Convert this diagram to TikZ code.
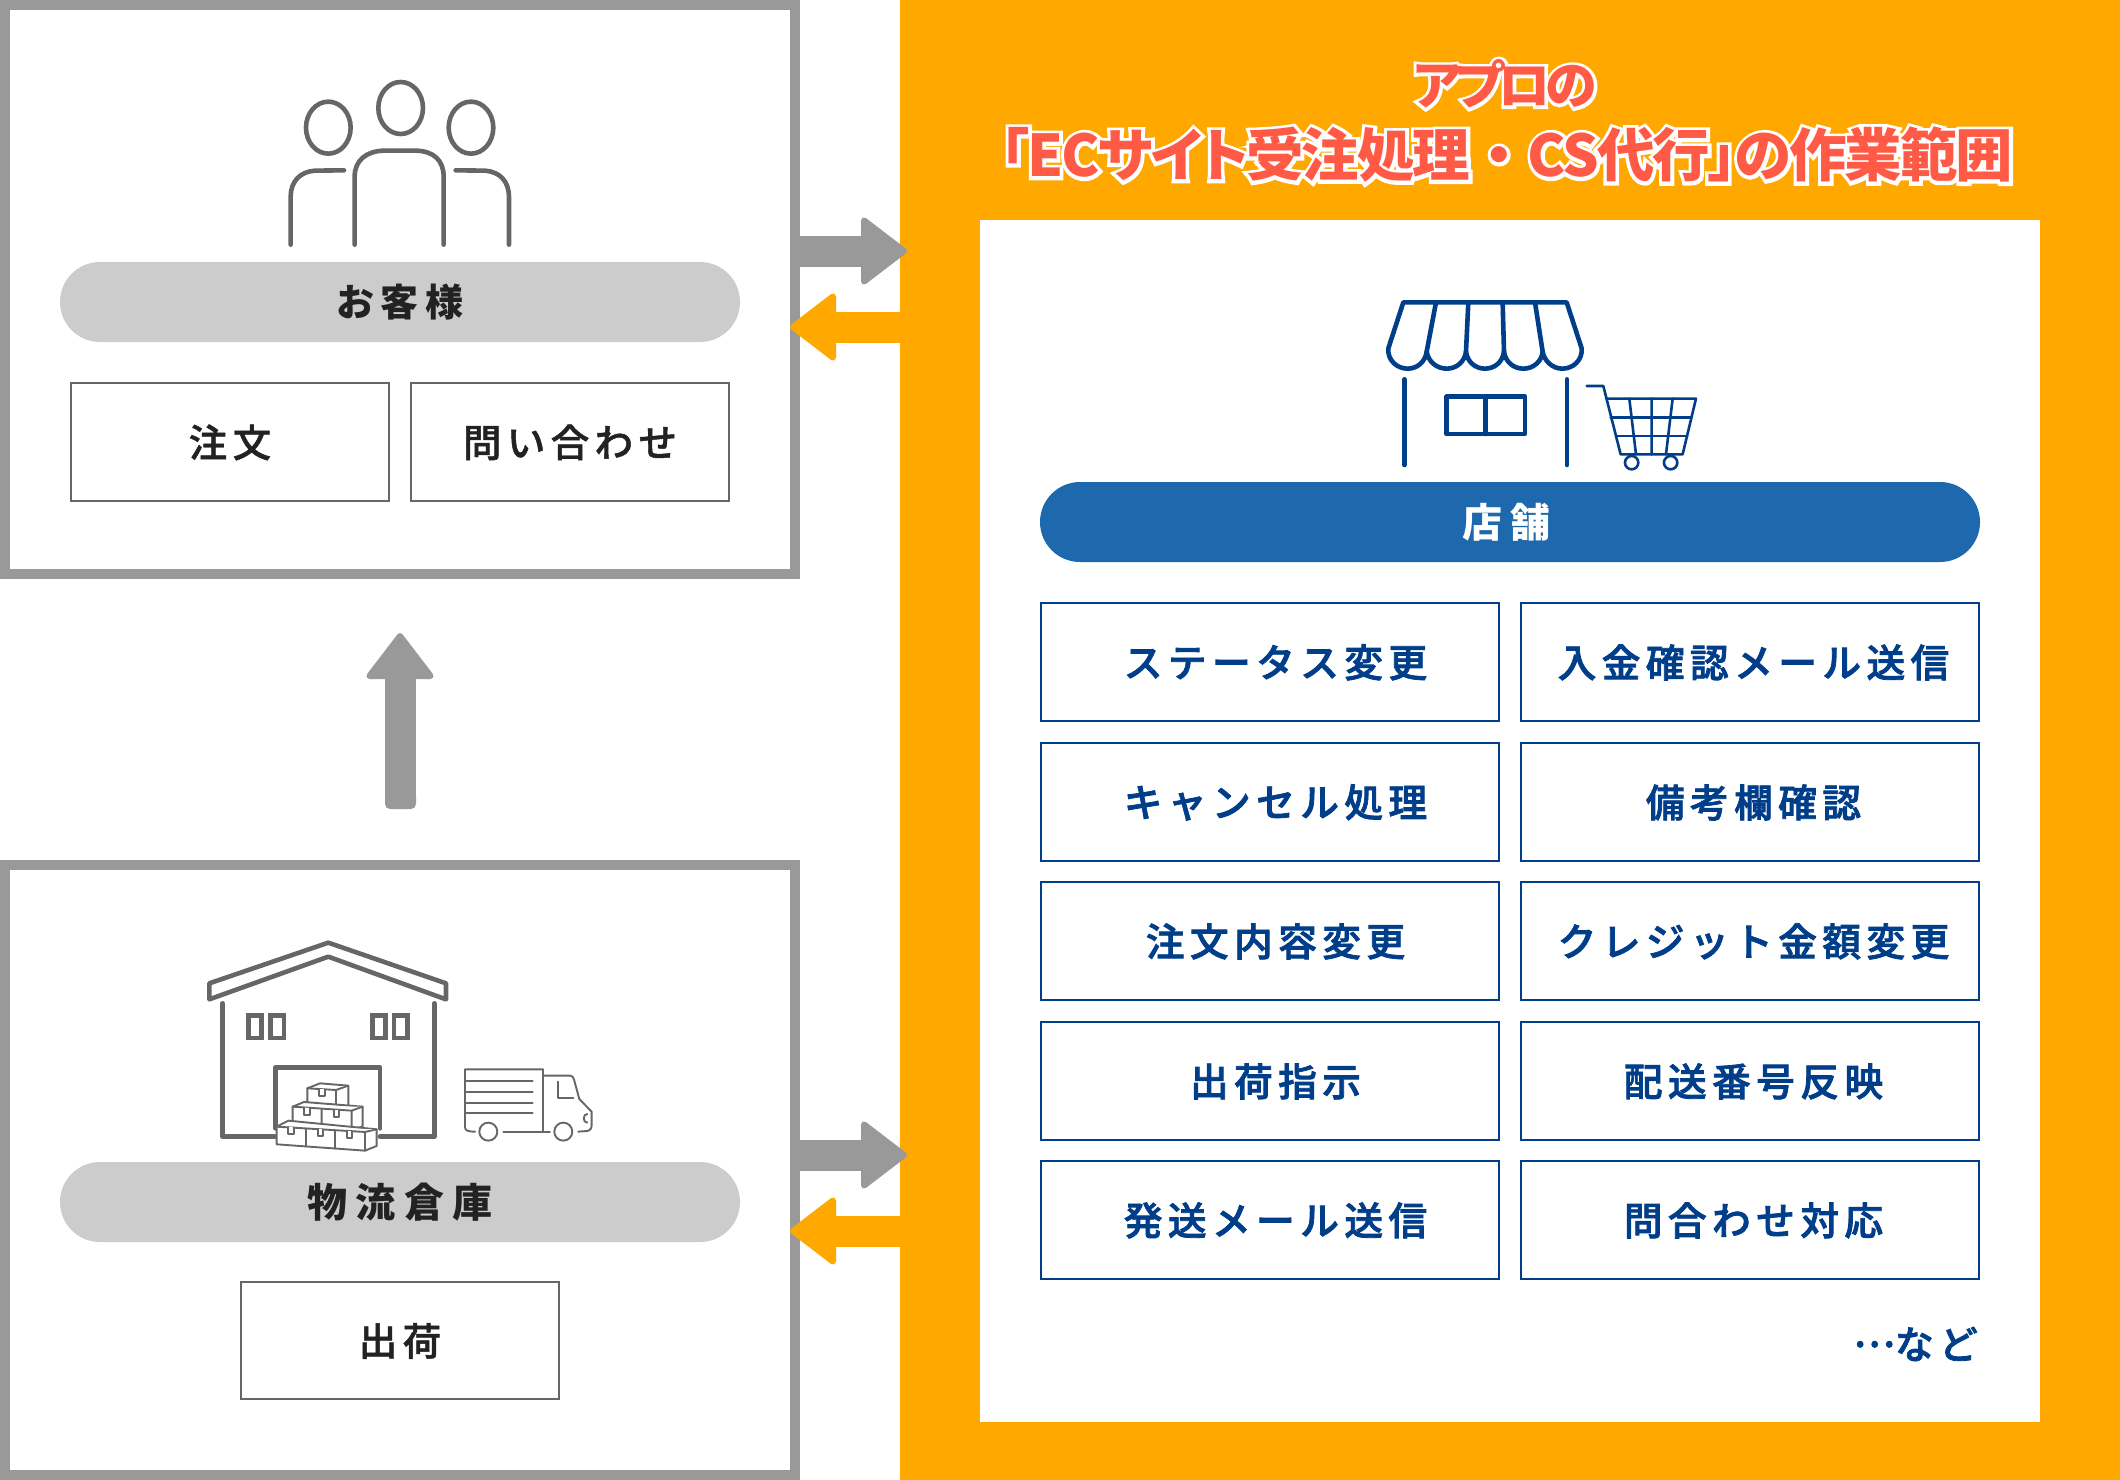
\documentclass[tikz,border=0pt]{standalone}
\usepackage{fontspec}
\usetikzlibrary{arrows.meta}
\setmainfont{Noto Sans CJK JP}
\newfontfamily\jpm[LetterSpace=14,FakeBold=1.2]{Noto Sans CJK JP Medium}
\newfontfamily\jpn[LetterSpace=14,FakeBold=2]{Noto Sans CJK JP Medium}
\newfontfamily\jpa[LetterSpace=18]{Noto Sans CJK JP Black}
\newfontfamily\jpc[LetterSpace=21]{Noto Sans CJK JP Black}
\newfontfamily\tlA[RawFeature=+palt,LetterSpace=-11]{Noto Sans CJK JP Black}
\newfontfamily\tlB[RawFeature=+palt,LetterSpace=-3.5]{Noto Sans CJK JP Black}
\newfontfamily\tlDot{Noto Sans CJK JP Black}
\newfontfamily\hlA[FakeBold=12,RawFeature=+palt,LetterSpace=-11]{Noto Sans CJK JP Black}
\newfontfamily\hlB[FakeBold=12,RawFeature=+palt,LetterSpace=-3.5]{Noto Sans CJK JP Black}
\newfontfamily\hlDot[FakeBold=12]{Noto Sans CJK JP Black}
\definecolor{oran}{HTML}{FFA800}
\definecolor{grayb}{HTML}{999999}
\definecolor{pillg}{HTML}{CCCCCC}
\definecolor{navy}{HTML}{003E8A}
\definecolor{pillb}{HTML}{1E69AD}
\definecolor{ink}{HTML}{222222}
\definecolor{icong}{HTML}{666666}
\definecolor{tred}{HTML}{FF5A45}
\tikzset{
 x=1pt,y=-1pt,
 panel/.style={draw=grayb,line width=10pt,fill=white},
 pillgray/.style={fill=pillg,rounded corners=40pt},
 pillblue/.style={fill=pillb,rounded corners=40pt},
 gbox/.style={draw=icong,line width=2pt,fill=white,inner sep=0pt,text=ink,font=\jpm\fontsize{38.5}{38.5}\selectfont},
 bbox/.style={draw=navy,line width=2pt,fill=white,inner sep=0pt,text=navy,font=\jpn\fontsize{38.7}{38.7}\selectfont},
 arrowtip/.style={-{Triangle[length=48pt,width=72pt,line width=6pt,round]}},
 garrow/.style={draw=grayb,line width=31pt,arrowtip},
 oarrow/.style={draw=oran,line width=31pt,arrowtip},
 icon/.style={draw=icong,line width=4.6pt,line cap=round,line join=round},
 thin/.style={draw=icong,line width=1.9pt,line cap=round,line join=round,fill=white},
 store/.style={draw=navy,line width=4.6pt,line cap=round,line join=round},
 cart/.style={draw=navy,line width=2.6pt,line cap=round,line join=round},
 titlelab/.style={inner sep=0pt},
}
\newcommand{\tx}[2]{\raisebox{-0.4pt}[\height][\depth]{\hspace*{#1}#2}}
\newcommand{\fsA}{\fontsize{52}{52}\selectfont}
\newcommand{\fsB}{\fontsize{57.5}{57.5}\selectfont}
\begin{document}
\begin{tikzpicture}
\useasboundingbox (0,0) rectangle (2120,1480);
\fill[white] (0,0) rectangle (2120,1480);
% panels
\draw[panel] (5,5) rectangle (795,574);
\draw[panel] (5,865) rectangle (795,1475);
\fill[oran] (900,0) rectangle (2120,1480);
\fill[white] (980,220) rectangle (2040,1422);
% title
\node[titlelab,text=white,font=\hlA\fsA] (th1) at (1505,84) {アプロの};
\node[titlelab,text=white,font=\hlB\fsB] (th2) at (1507,155) {「ECサイト受注処理{\hlDot\fsB ・}CS代行」の作業範囲};
\node[titlelab,text=tred,font=\tlA\fsA] (t1) at (1505,84) {アプロの};
\node[titlelab,text=tred,font=\tlB\fsB] (t2) at (1507,155) {「ECサイト受注処理{\tlDot\fsB ・}CS代行」の作業範囲};
% pills
\node[pillgray,minimum width=680pt,minimum height=80pt,inner sep=0pt,text=ink,font=\jpa\fontsize{38}{38}\selectfont] (cust) at (400,302) {お客様};
\node[pillgray,minimum width=680pt,minimum height=80pt,inner sep=0pt,text=ink,font=\jpc\fontsize{40}{40}\selectfont] (wh) at (400,1202) {物流倉庫};
\node[pillblue,minimum width=940pt,minimum height=80pt,inner sep=0pt,text=white,font=\jpc\fontsize{40}{40}\selectfont] (shop) at (1510,522) {店舗\hspace*{7pt}};
% boxes left
\node[gbox,minimum width=318pt,minimum height=118pt] (b1) at (230,442) {\tx{0pt}{注文}};
\node[gbox,minimum width=318pt,minimum height=118pt] (b2) at (570,442) {\tx{0pt}{問い合わせ}};
\node[gbox,minimum width=318pt,minimum height=117pt] (b3) at (400,1340.5) {\tx{0pt}{出荷}};
% boxes right
\foreach \nm/\cy/\ta/\tb in {r1/662/ステータス変更/入金確認メール送信,r2/802/キャンセル処理/備考欄確認,r3/941/注文内容変更/クレジット金額変更,r4/1081/出荷指示/配送番号反映,r5/1220/発送メール送信/問合わせ対応}{
 \node[bbox,minimum width=458pt,minimum height=117.5pt] (\nm a) at (1270,\cy) {\tx{11pt}{\ta}};
 \node[bbox,minimum width=458pt,minimum height=117.5pt] (\nm b) at (1750,\cy) {\tx{7pt}{\tb}};
}
\node[anchor=east,inner sep=0pt,text=navy,font=\jpn\fontsize{38.7}{38.7}\selectfont] (etc) at (1978,1344) {\raisebox{12pt}{…}など};
% arrows
\coordinate (a1s) at (790,251); \coordinate (a1e) at (907,251);
\coordinate (a2s) at (910,327); \coordinate (a2e) at (790,327);
\coordinate (a3s) at (790,1155); \coordinate (a3e) at (907,1155);
\coordinate (a4s) at (910,1231); \coordinate (a4e) at (790,1231);
\coordinate (a5s) at (400,803); \coordinate (a5e) at (400,633);
\draw[oarrow] (a2s) -- (a2e);
\draw[garrow] (a1s) -- (a1e);
\draw[oarrow] (a4s) -- (a4e);
\draw[garrow] (a3s) -- (a3e);
\fill[grayb,rounded corners=5pt] (385,790) rectangle (416,809);
\draw[garrow] (a5s) -- (a5e);
% people icon
\begin{scope}[shift={(250,50)},x=0.3333pt,y=-0.3333pt]
 \draw[icon] (452,174) ellipse [x radius=67,y radius=78];
 \draw[icon] (235,233) ellipse [x radius=67,y radius=78];
 \draw[icon] (663,233) ellipse [x radius=67,y radius=78];
 \draw[icon] (314,584) -- (314,380) .. controls (314,330) and (350,304) .. (400,302) -- (500,302) .. controls (550,304) and (581,330) .. (581,380) -- (581,584);
 \draw[icon] (122,584) -- (122,440) .. controls (122,395) and (150,365) .. (195,362) -- (282,361);
 \draw[icon] (777,584) -- (777,440) .. controls (777,395) and (750,365) .. (705,362) -- (617,361);
\end{scope}
% warehouse icon
\begin{scope}[shift={(180,920)},x=0.3333pt,y=-0.3333pt]
 \draw[icon] (445,68) -- (798,190) -- (798,238) -- (445,110) -- (88,238) -- (88,190) -- cycle;
 \draw[icon] (128,250) -- (128,650) -- (285,650);
 \draw[icon] (763,250) -- (763,650) -- (600,650);
 \draw[icon] (287,625) -- (287,442) -- (600,442) -- (600,625);
 \foreach \xa/\xb in {206/245,272/312,577/616,642/683}{\draw[icon,line cap=butt,line join=miter] (\xa,286) rectangle (\xb,354);}
 % crates
 \draw[thin] (382,505) -- (420,490) -- (505,497) -- (505,560) -- (468,570) -- (382,562) -- cycle;
 \draw[thin] (382,505) -- (468,510) -- (505,497) (468,510) -- (468,570);
 \draw[thin] (338,560) -- (372,546) -- (548,560) -- (548,620) -- (515,628) -- (338,618) -- cycle;
 \draw[thin] (338,560) -- (515,572) -- (548,560) (515,572) -- (515,628) (425,566) -- (425,622);
 \draw[thin] (290,620) -- (325,602) -- (590,628) -- (590,678) -- (555,692) -- (290,673) -- cycle;
 \draw[thin] (290,620) -- (555,636) -- (590,628) (555,636) -- (555,692) (378,625) -- (378,679) (465,630) -- (465,686);
 \draw[thin] (418,507) -- (418,528) -- (434,528) -- (434,508);
 \draw[thin] (373,563) -- (373,586) -- (389,586) -- (389,564);
 \draw[thin] (461,570) -- (461,592) -- (477,592) -- (477,571);
 \draw[thin] (325,621) -- (325,642) -- (341,642) -- (341,622);
 \draw[thin] (413,627) -- (413,648) -- (429,648) -- (429,628);
 \draw[thin] (501,633) -- (501,654) -- (517,654) -- (517,634);
 % truck
 \draw[thin,fill=none] (1088,448) -- (855,448) -- (855,620) .. controls (855,630) and (860,635) .. (885,635);
 \draw[thin,fill=none] (925,635) circle (27) (1150,635) circle (27);
 \draw[thin,fill=none] (970,635) -- (1110,635);
 \draw[thin,fill=none] (1195,635) -- (1222,633) .. controls (1232,630) and (1235,625) .. (1235,615) -- (1235,575) -- (1198,537) -- (1182,478) .. controls (1180,470) and (1176,467) .. (1170,467) -- (1090,467);
 \draw[thin,fill=none] (1088,448) -- (1088,635);
 \foreach \yy in {483,516,548,580}{\draw[thin,fill=none] (860,\yy) -- (1058,\yy);}
 \draw[thin,fill=none] (1133,485) -- (1133,533) -- (1180,533);
 \draw[thin,fill=none] (1222,582) .. controls (1208,582) and (1208,608) .. (1222,608);
\end{scope}
% store icon
\begin{scope}[shift={(1360,280)},x=0.3333pt,y=-0.3333pt]
 \draw[store] (130,67) -- (620,67) -- (665,205) .. controls (668,240) and (640,266) .. (607,266) .. controls (575,266) and (552,240) .. (548,215) .. controls (545,245) and (520,266) .. (490,266) .. controls (460,266) and (436,245) .. (432,215) .. controls (428,245) and (405,266) .. (375,266) .. controls (345,266) and (322,245) .. (318,215) .. controls (314,245) and (290,266) .. (260,266) .. controls (230,266) and (205,245) .. (200,215) .. controls (196,245) and (172,266) .. (143,266) .. controls (110,266) and (82,240) .. (85,205) -- cycle;
 \draw[store] (228,67) -- (200,215) (325,67) -- (318,215) (428,67) -- (432,215) (525,67) -- (548,215);
 \draw[store] (133,298) -- (133,555) (621,298) -- (621,555);
 \draw[store] (260,350) rectangle (495,462) (377,350) -- (377,462);
 \draw[cart] (680,318) -- (730,318) -- (782,523) -- (968,523) -- (1008,356) -- (738,356);
 \draw[cart] (752,412) -- (995,412) (768,468) -- (982,468);
 \draw[cart] (808,356) -- (828,523) (875,356) -- (875,523) (938,356) -- (918,523);
 \draw[cart] (815,548) circle (20) (932,548) circle (20);
\end{scope}
\end{tikzpicture}
\end{document}
